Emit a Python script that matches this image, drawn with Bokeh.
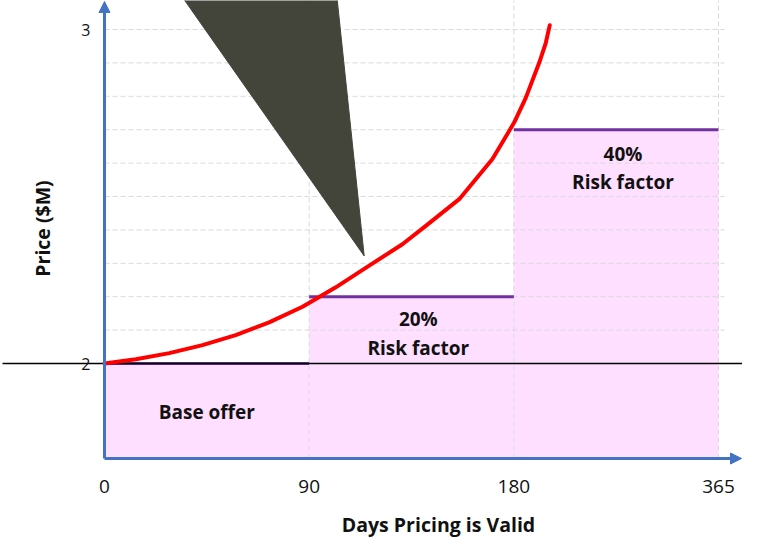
import numpy as np
from bokeh.plotting import figure
from bokeh.models import Range1d, Arrow, NormalHead
from bokeh.core.properties import value
from bokeh.embed import file_html
from bokeh.resources import INLINE

# ---------------- data ----------------
day_labels = ["0", "90", "180", "365"]
slot_pos = [0, 90, 180, 270]          # evenly spaced slots on the diagram axis
price_ticks = [2, 3]
tier_names = ["Base offer", "20%\nRisk factor", "40%\nRisk factor"]
tier_price = [2.0, 2.2, 2.7]

curve_x = [0, 13.8, 28.5, 43.1, 57.7, 72.4, 87.1, 101.7, 116.4, 131.0, 141.3,
           156.0, 170.6, 180.2, 185.3, 191.2, 194.1, 195.8]
curve_y = [2.000, 2.013, 2.031, 2.055, 2.085, 2.123, 2.170, 2.228, 2.293, 2.357,
           2.412, 2.492, 2.612, 2.722, 2.796, 2.901, 2.961, 3.013]

pointer_x = [32.8, 102.0, 114.2]
pointer_y = [3.111, 3.111, 2.322]

x_title = "Days Pricing is Valid"
y_title = "Price ($M)"

# ---------------- layout helpers ----------------
W, H = 742, 538
PX_X = 2.274   # px per slot unit
PX_Y = 334.0   # px per price unit
base = price_ticks[0]
x_start = -104 / PX_X
x_end = x_start + W / PX_X
y_top = base + 363 / PX_Y
y_bot = y_top - H / PX_Y
axis_y = base - 95 / PX_Y

FONT = value("Open Sans")
BLUE = "#4472C4"

p = figure(width=W, height=H, x_range=Range1d(x_start, x_end),
           y_range=Range1d(y_bot, y_top), output_backend="svg",
           toolbar_location=None, x_axis_location=None, y_axis_location=None,
           min_border=0)
p.grid.visible = False
p.outline_line_color = None
p.background_fill_color = "white"
p.border_fill_color = "white"

# pink tiers
p.quad(left=slot_pos[:-1], right=slot_pos[1:], bottom=axis_y, top=tier_price,
       fill_color="#FFDFFF", line_color=None)

# dashed grid
grid_prices = [round(base + 0.1 * k, 1) for k in range(1, 11)]
grid_right = slot_pos[-1] + 6 / PX_X
p.segment(x0=[slot_pos[0]] * len(grid_prices), x1=[grid_right] * len(grid_prices),
          y0=grid_prices, y1=grid_prices, line_color="#D9D9D9", line_width=1,
          line_dash="5 3")
p.segment(x0=slot_pos[1:], x1=slot_pos[1:], y0=[axis_y] * 3, y1=[y_top] * 3,
          line_color="#D9D9D9", line_width=1, line_dash="5 3")

# purple tier tops
p.segment(x0=slot_pos[:-1], x1=slot_pos[1:], y0=tier_price, y1=tier_price,
          line_color="#7030A0", line_width=3)

# black reference line
p.segment(x0=[x_start + 2 / PX_X], x1=[x_end], y0=[base], y1=[base],
          line_color="black", line_width=1.5)

# red curve
p.line(curve_x, curve_y, line_color="#FF0000", line_width=4, line_join="round",
       line_cap="round")

# dark pointer triangle
p.patch(pointer_x, pointer_y, fill_color="#43453B", line_color="#43453B")

# axes arrows
p.add_layout(Arrow(end=NormalHead(size=11, fill_color=BLUE, line_color=BLUE),
                   x_start=0, y_start=axis_y, x_end=0, y_end=y_top - 1 / PX_Y,
                   line_color=BLUE, line_width=3))
p.add_layout(Arrow(end=NormalHead(size=11, fill_color=BLUE, line_color=BLUE),
                   x_start=0, y_start=axis_y, x_end=x_end - 1 / PX_X, y_end=axis_y,
                   line_color=BLUE, line_width=3))

# tick labels
p.text(x=slot_pos, y=[axis_y - 28 / PX_Y] * 4, text=day_labels, text_font=FONT,
       text_font_size="19px", text_align="center", text_baseline="middle",
       text_color="#111111")
p.text(x=[-14 / PX_X] * 2, y=price_ticks, text=[str(t) for t in price_ticks],
       text_font=FONT, text_font_size="16px", text_align="right",
       text_baseline="middle", text_color="#111111")

# tier labels
mids = [(a + b) / 2 for a, b in zip(slot_pos[:-1], slot_pos[1:])]
label_x = [mids[0], mids[1] + 3, mids[2] + 3]
label_y = [tier_price[0] - 0.144, tier_price[1] - 0.11, tier_price[2] - 0.115]
p.text(x=label_x, y=label_y, text=tier_names, text_font=FONT,
       text_font_size="19px", text_font_style="bold", text_align="center",
       text_baseline="middle", text_line_height=1.09, text_color="#111111")

# axis titles
p.text(x=[334 / PX_X], y=[base - 161 / PX_Y], text=[x_title], text_font=FONT,
       text_font_size="19.5px", text_font_style="bold", text_align="center",
       text_baseline="middle", text_color="#111111")
p.text(x=[-62 / PX_X], y=[base + 135 / PX_Y], text=[y_title], text_font=FONT,
       text_font_size="19.5px", text_font_style="bold", text_align="center",
       text_baseline="middle", angle=np.pi / 2, text_color="#111111")

open("out.html", "w").write(file_html(p, INLINE))
